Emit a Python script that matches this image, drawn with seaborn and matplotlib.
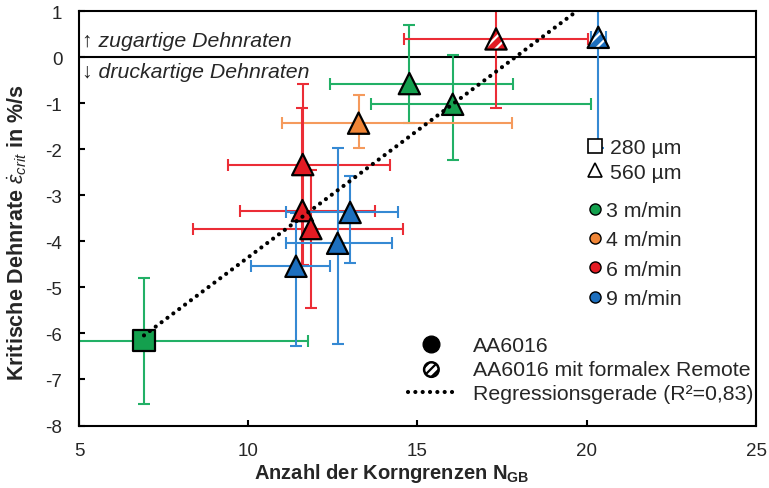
import numpy as np
import pandas as pd
import matplotlib
matplotlib.use("Agg")
import matplotlib.pyplot as plt
import seaborn as sns
from matplotlib.lines import Line2D

# Grain boundary count and critical strain rate per specimen
n_gb = [6.92, 14.76, 16.04, 13.26, 17.32, 20.34, 11.61, 11.60, 11.85, 13.01, 12.64, 11.41]
eps_crit = [-6.16, -0.57, -1.02, -1.43, 0.40, 0.435, -2.33, -3.33, -3.72, -3.37, -4.04, -4.54]
# lower / upper error extents (x: N_GB, y: strain rate)
xerr_lo = [4.85, 2.34, 2.41, 2.26, 2.72, 0.22, 2.21, 1.84, 3.49, 1.89, 1.53, 1.34]
xerr_hi = [4.85, 3.07, 4.09, 4.52, 2.72, 0.22, 2.59, 2.15, 2.73, 1.40, 1.60, 1.00]
yerr_lo = [1.37, 0.85, 1.20, 0.53, 1.51, 2.41, 2.19, 1.20, 1.72, 1.09, 2.19, 1.74]
yerr_hi = [1.37, 1.27, 1.07, 0.61, 1.51, 2.41, 1.75, 2.23, 1.28, 0.80, 2.07, 1.16]
speed = ["3 m/min", "3 m/min", "3 m/min", "4 m/min", "6 m/min", "9 m/min",
         "6 m/min", "6 m/min", "6 m/min", "9 m/min", "9 m/min", "9 m/min"]
thickness = ["280 µm"] + ["560 µm"] * 11
material = ["AA6016"] * 4 + ["AA6016 mit formalex Remote"] * 2 + ["AA6016"] * 6

speed_levels = ["3 m/min", "4 m/min", "6 m/min", "9 m/min"]
thickness_levels = ["280 µm", "560 µm"]
x_ticks = [5, 10, 15, 20, 25]
y_ticks = [-8, -7, -6, -5, -4, -3, -2, -1, 0, 1]

df = pd.DataFrame({
    "n_gb": n_gb, "eps": eps_crit,
    "xlo": xerr_lo, "xhi": xerr_hi, "ylo": yerr_lo, "yhi": yerr_hi,
    "speed": speed, "thickness": thickness, "material": material,
})

fill_colors = {"3 m/min": "#14a04e", "4 m/min": "#f08536",
               "6 m/min": "#e31b23", "9 m/min": "#1d6fbe"}
bar_colors = {"3 m/min": "#22b066", "4 m/min": "#f59a5c",
              "6 m/min": "#eb2d36", "9 m/min": "#3589d3"}
marker_map = {"280 µm": "s", "560 µm": "^"}

sns.set_style("ticks")
plt.rcParams["font.family"] = ["Liberation Sans", "DejaVu Sans"]
plt.rcParams["axes.unicode_minus"] = False
plt.rcParams["hatch.linewidth"] = 1.6
plt.rcParams["mathtext.fontset"] = "custom"
plt.rcParams["mathtext.rm"] = "Liberation Sans"
plt.rcParams["mathtext.it"] = "Liberation Sans:italic"
plt.rcParams["mathtext.bf"] = "Liberation Sans:bold"

fig = plt.figure(figsize=(7.69, 4.89), dpi=100)
ax = fig.add_axes([0.1027, 0.1278, 0.8804, 0.847])

# error bars
for _, r in df.iterrows():
    ax.errorbar(r["n_gb"], r["eps"],
                xerr=[[r["xlo"]], [r["xhi"]]], yerr=[[r["ylo"]], [r["yhi"]]],
                fmt="none", ecolor=bar_colors[r["speed"]], elinewidth=1.5,
                capsize=4.2, capthick=1.5, zorder=2)

solid = df[df["material"] == "AA6016"]
coated = df[df["material"] != "AA6016"]

sns.scatterplot(data=solid, x="n_gb", y="eps", hue="speed", style="thickness",
                hue_order=speed_levels, style_order=thickness_levels,
                palette=fill_colors, markers=marker_map, s=235,
                edgecolor="black", linewidth=1.6, legend=False, zorder=3, ax=ax)

# hatched markers: white stripes on coloured fill, then black outline
sns.scatterplot(data=coated, x="n_gb", y="eps", hue="speed", style="thickness",
                hue_order=speed_levels, style_order=thickness_levels,
                palette=fill_colors, markers=marker_map, s=235,
                edgecolor="white", linewidth=0, hatch="///", legend=False,
                zorder=3, ax=ax)
ax.scatter(coated["n_gb"], coated["eps"], marker="^", s=235,
           facecolors="none", edgecolors="black", linewidths=1.6, zorder=3.5)

# linear regression over all specimens
r2 = np.corrcoef(df["n_gb"], df["eps"])[0, 1] ** 2
dot_style = dict(color="black", lw=3.0, ls=(0, (0.01, 1.75)),
                 dash_capstyle="round")
sns.regplot(data=df, x="n_gb", y="eps", scatter=False, ci=None, truncate=True,
            line_kws=dict(zorder=4, **dot_style), ax=ax)

ax.axhline(0, color="black", lw=1.5, zorder=1)

ax.set_xlim(5, 25)
ax.set_ylim(-8, 1)
ax.set_xticks(x_ticks)
ax.set_yticks(y_ticks)
ax.tick_params(direction="in", length=4, width=1.5, labelsize=13.5, color="black")
ax.tick_params(axis="x", pad=12)
ax.tick_params(axis="y", pad=12)
for s in ax.spines.values():
    s.set_linewidth(1.5)
    s.set_color("black")

ax.set_xlabel(r"Anzahl der Korngrenzen N$_{\mathbf{GB}}$", fontsize=14.5,
              fontweight="bold")
ax.set_ylabel(r"Kritische Dehnrate $\dot{\varepsilon}_{crit}$ in %/s",
              fontsize=15.5, fontweight="bold")
ax.xaxis.set_label_coords(0.462, -0.085)
ax.yaxis.set_label_coords(-0.074, 0.468)

ax.text(5.09, 0.36, "↑ zugartige Dehnraten", style="italic", fontsize=15.3,
        va="center", ha="left")
ax.text(5.09, -0.30, "↓ druckartige Dehnraten", style="italic", fontsize=15.3,
        va="center", ha="left")

LEG_FS = 15.3

# legend: sheet thickness
shape_handles = [Line2D([], [], ls="none", marker=marker_map[t], mfc="white",
                        mec="black", ms=10.5, mew=1.2) for t in thickness_levels]
leg1 = ax.legend(shape_handles, thickness_levels, loc="upper left",
                 bbox_to_anchor=(0.753, 0.693), frameon=False, fontsize=LEG_FS,
                 handlelength=0.6, handletextpad=0.42, labelspacing=0.24,
                 borderpad=0, borderaxespad=0)
ax.add_artist(leg1)

# legend: process speed
speed_handles = [Line2D([], [], ls="none", marker="o", mfc=fill_colors[s],
                        mec="black", ms=8, mew=1.0) for s in speed_levels]
leg2 = ax.legend(speed_handles, speed_levels, loc="upper left",
                 bbox_to_anchor=(0.753, 0.542), frameon=False, fontsize=LEG_FS,
                 handlelength=0.55, handletextpad=0.28, labelspacing=0.49,
                 borderpad=0, borderaxespad=0)
ax.add_artist(leg2)

# legend: material and regression
solid_h = Line2D([], [], ls="none", marker="o", mfc="black", mec="black", ms=12)
hatch_h = ax.scatter([], [], marker="o", s=110, facecolor="white",
                     edgecolor="black", linewidth=1.8, hatch="////")
reg_h = Line2D([], [], **dot_style)
leg3 = ax.legend([solid_h, hatch_h, reg_h],
                 ["AA6016", "AA6016 mit formalex Remote",
                  f"Regressionsgerade (R²={r2:.2f})".replace(".", ",")],
                 loc="upper left", bbox_to_anchor=(0.486, 0.216), frameon=False,
                 fontsize=LEG_FS, handlelength=2.2, handletextpad=0.85,
                 labelspacing=0.24, borderpad=0, borderaxespad=0)

fig.savefig("out.png", dpi=100)
